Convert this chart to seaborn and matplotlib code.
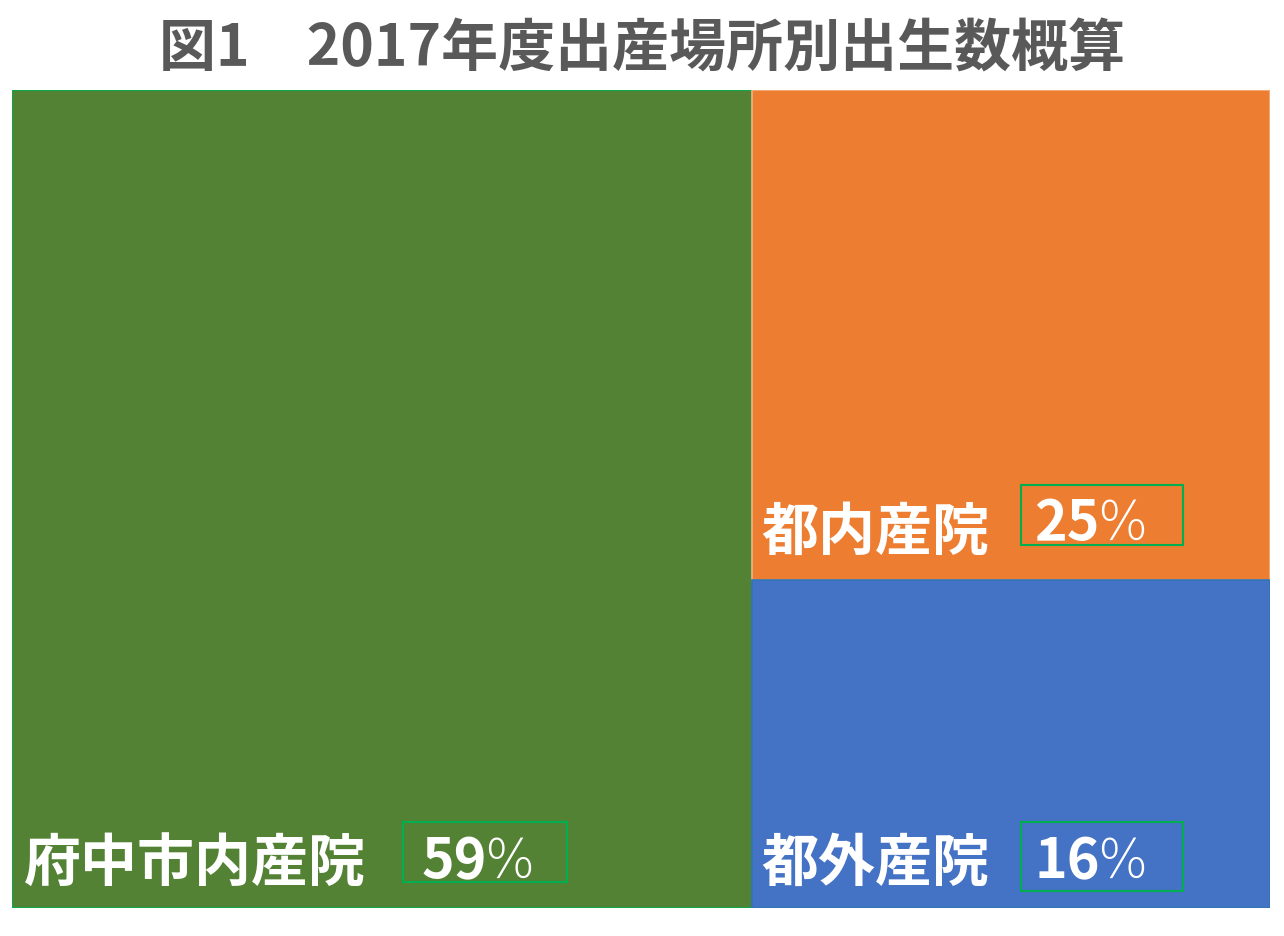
import matplotlib
matplotlib.use("Agg")
import matplotlib.pyplot as plt
import seaborn as sns
from matplotlib.patches import Rectangle

# ---- data ----
categories = ["府中市内産院", "都内産院", "都外産院"]
shares = [58.8, 24.7, 16.5]          # area shares
pct_labels = ["59", "25", "16"]      # printed percentages
title = "図1　2017年度出産場所別出生数概算"
colors = ["#548235", "#ED7D31", "#4472C4"]
edge_colors = ["#00B050", "#F4B183", "#2E75B6"]

sns.set_theme(style="white")
plt.rcParams["font.family"] = ["Noto Sans CJK JP", "DejaVu Sans"]

W, H = 1284, 936
fig = plt.figure(figsize=(W / 100, H / 100), dpi=100)
ax_l, ax_r, ax_t, ax_b = 12, 1270, 90, 908
ax = fig.add_axes([ax_l / W, 1 - ax_b / H, (ax_r - ax_l) / W, (ax_b - ax_t) / H])

total = sum(shares)
# slice-and-dice treemap: first item takes a column, the rest split the remainder vertically
w0 = shares[0] / total * 100
rects = [(0, 0, w0, 100)]
rest = sum(shares[1:])
ybot = 100
for s in shares[1:]:
    h = s / rest * 100
    ybot -= h
    rects.append((w0, ybot, 100 - w0, h))

for (x, y, w, h), c, ec in zip(rects, colors, edge_colors):
    ax.bar(x, h, width=w, bottom=y, align="edge", color=c, edgecolor=ec, linewidth=1.2)

ax.set_xlim(0, 100)
ax.set_ylim(0, 100)
ax.axis("off")

px_x = (ax_r - ax_l) / 100.0
px_y = (ax_b - ax_t) / 100.0

# label / box offsets in pixels from each rectangle's bottom-left corner
label_off = [(12, 44), (10, 48), (10, 44)]
box_off = [(391, 26, 164, 60), (269, 35, 162, 60), (269, 17, 162, 69)]
num_right = [487 - 12, 1100 - 752, 1100 - 752]
num_cy = [46, 56, 46]

for i, ((x, y, w, h), cat, pl) in enumerate(zip(rects, categories, pct_labels)):
    lx, ly = label_off[i]
    ax.text(x + lx / px_x, y + ly / px_y, cat, color="white", fontsize=41,
            fontweight="bold", ha="left", va="center")
    bx, by, bw, bh = box_off[i]
    ax.add_patch(Rectangle((x + bx / px_x, y + by / px_y), bw / px_x, bh / px_y,
                           fill=False, edgecolor="#00B050", linewidth=1.5))
    nx = x + num_right[i] / px_x
    ny = y + num_cy[i] / px_y
    ax.text(nx, ny, pl, color="white", fontsize=40, fontweight="bold",
            ha="right", va="center")
    ax.text(nx - 3 / px_x, ny, "%", color="white", fontsize=38, fontweight="light",
            ha="left", va="center", family=["DejaVu Sans"])

fig.text(0.5, 1 - 50 / H, title, ha="center", va="center", fontsize=41,
         fontweight="bold", color="#595959")

fig.savefig("out.png", dpi=100, facecolor="white")
